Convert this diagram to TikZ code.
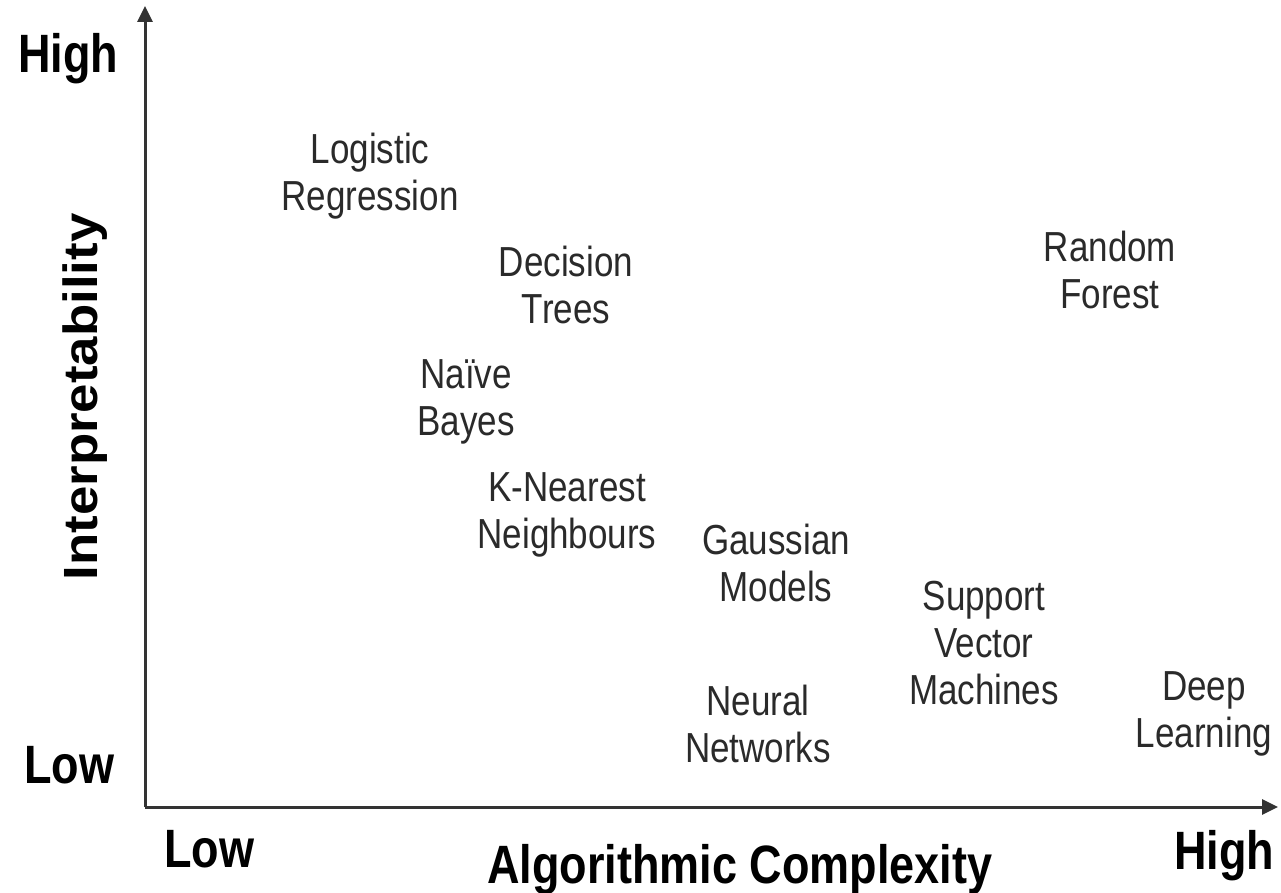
\documentclass[tikz,border=0pt]{standalone}
\usepackage{fontspec}
\setmainfont{Liberation Sans}
\usetikzlibrary{arrows.meta}
\definecolor{axisgray}{HTML}{333333}
\definecolor{labgray}{HTML}{2A2A2A}
\newcommand{\methodlab}[1]{\scalebox{1}[1.2]{\fontsize{35}{39}\selectfont\begin{tabular}{@{}c@{}}#1\end{tabular}}}
\newcommand{\boldlab}[1]{\scalebox{1}[1.2]{\fontsize{45}{50}\selectfont\bfseries #1}}
\tikzset{
  axisline/.style={draw=axisgray, line width=3pt, -{Triangle[length=16pt,width=15pt]}},
  method/.style={inner sep=0pt, text=labgray, anchor=center},
  axlabel/.style={inner sep=0pt, text=black, anchor=base},
}
\begin{document}
\begin{tikzpicture}[x=1pt,y=-1pt]
\useasboundingbox (0,0) rectangle (1281,893);
\coordinate (origin) at (145,807);
\coordinate (ytop) at (145,6);
\coordinate (xend) at (1278,807);
\draw[axisline] (origin) -- (ytop);
\draw[axisline] (origin) -- (xend);

\node[axlabel] (yhigh) at (68,73) {\boldlab{High}};
\node[axlabel] (ylow) at (69,783) {\boldlab{Low}};
\node[axlabel] (xlow) at (209,867) {\boldlab{Low}};
\node[axlabel] (xhigh) at (1224,869) {\boldlab{High}};
\node[axlabel] (xtitle) at (740,883) {\boldlab{Algorithmic Complexity}};
\node[inner sep=0pt, anchor=base, rotate=90] (ytitle) at (97,397)
  {\scalebox{1.1}[1]{\fontsize{48}{52}\selectfont\bfseries Interpretability}};

\node[method] (lr) at (370,178) {\methodlab{Logistic\\Regression}};
\node[method] (dt) at (566,291) {\methodlab{Decision\\Trees}};
\node[method] (rf) at (1110,276) {\methodlab{Random\\Forest}};
\node[method] (nb) at (466,403) {\methodlab{Naïve\\Bayes}};
\node[method] (knn) at (567,516) {\methodlab{K-Nearest\\Neighbours}};
\node[method] (gm) at (776,569) {\methodlab{Gaussian\\Models}};
\node[method] (svm) at (984,648) {\methodlab{Support\\Vector\\Machines}};
\node[method] (nn) at (758,730) {\methodlab{Neural\\Networks}};
\node[method] (dl) at (1204,715) {\methodlab{Deep\\Learning}};
\end{tikzpicture}
\end{document}
